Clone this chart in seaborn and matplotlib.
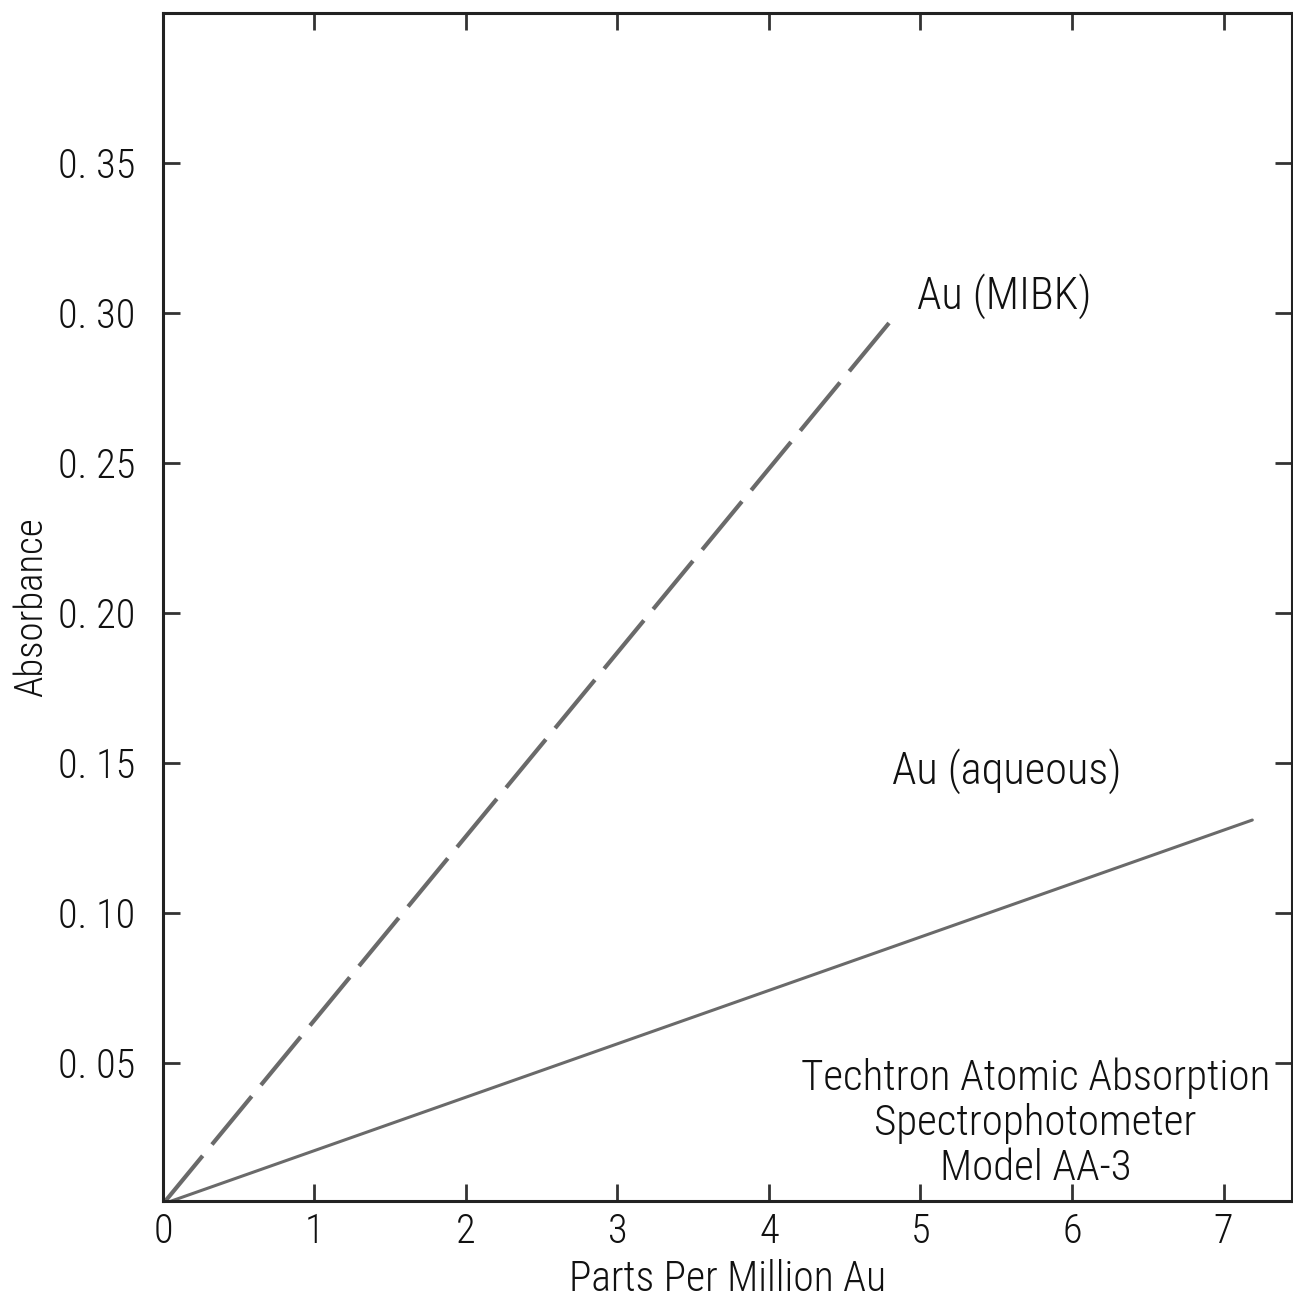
import numpy as np
import pandas as pd
import seaborn as sns
import matplotlib.pyplot as plt

# calibration curves (ppm Au vs absorbance)
ppm_mibk = [0.0, 4.83]
abs_mibk = [0.003, 0.299]
ppm_aq = [0.0, 7.19]
abs_aq = [0.003, 0.131]

x_ticks = [0, 1, 2, 3, 4, 5, 6, 7]
y_ticks = [0.05, 0.10, 0.15, 0.20, 0.25, 0.30, 0.35]
y_tick_labels = ['0. 05', '0. 10', '0. 15', '0. 20', '0. 25', '0. 30', '0. 35']

sns.set_style('ticks')
plt.rcParams['font.family'] = ['Roboto Condensed', 'DejaVu Sans']
plt.rcParams['font.weight'] = 'light'

fig = plt.figure(figsize=(12.93, 13.09), dpi=100)
ax = fig.add_axes([0.126, 0.0825, 0.873, 0.9075])

mibk = pd.DataFrame({'ppm': ppm_mibk, 'absorbance': abs_mibk})
aq = pd.DataFrame({'ppm': ppm_aq, 'absorbance': abs_aq})

sns.lineplot(data=mibk, x='ppm', y='absorbance', ax=ax, color='#6a6a6a',
             linewidth=3, dashes=False)
ax.lines[-1].set_dashes((15, 3.5))
sns.lineplot(data=aq, x='ppm', y='absorbance', ax=ax, color='#6a6a6a',
             linewidth=2.2)

ax.set_xlim(0, 7.45)
ax.set_ylim(0.004, 0.40)
ax.set_xticks(x_ticks)
ax.set_xticklabels([str(t) for t in x_ticks])
ax.set_yticks(y_ticks)
ax.set_yticklabels(y_tick_labels)

ax.tick_params(direction='in', length=12, width=2, top=True, right=True,
               labelsize=29, color='#333333', labelcolor='#111111')
ax.tick_params(axis='y', pad=20)
ax.tick_params(axis='x', pad=8)
for s in ax.spines.values():
    s.set_linewidth(2.2)
    s.set_color('#222222')

ax.set_xlabel('Parts Per Million Au', fontsize=30, labelpad=6, color='#111111',
              fontweight='light')
ax.set_ylabel('Absorbance', fontsize=28, color='#111111', fontweight='light')
ax.yaxis.set_label_coords(-0.1, 0.5)

ax.text(4.98, 0.3057, 'Au (MIBK)', fontsize=32, va='center', ha='left', color='#111111')
ax.text(4.81, 0.1473, 'Au (aqueous)', fontsize=32, va='center', ha='left', color='#111111')
ax.text(5.76, 0.030, 'Techtron Atomic Absorption\nSpectrophotometer\nModel AA-3',
        fontsize=31, va='center', ha='center', linespacing=1.12, color='#111111')

fig.savefig('out.png', dpi=100)
